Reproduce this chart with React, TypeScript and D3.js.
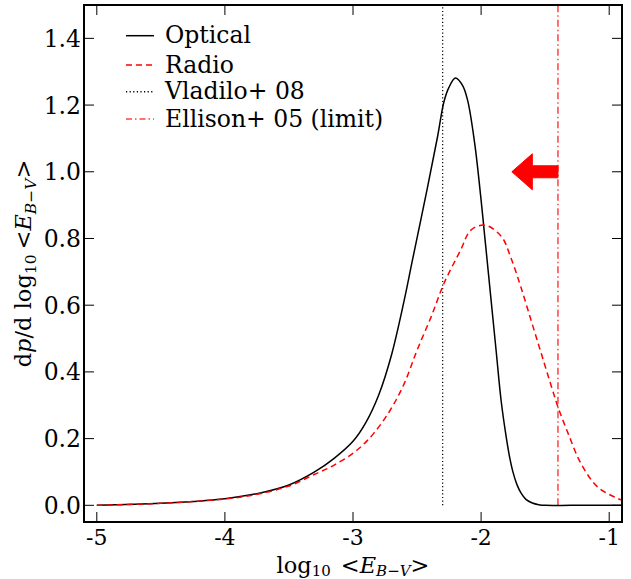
import React from 'react';
import * as d3 from 'd3';

const opticalX = [-5.0, -4.5, -4.0, -3.75, -3.5, -3.3, -3.15, -3.0, -2.9, -2.8, -2.7, -2.6, -2.536, -2.42, -2.34, -2.29, -2.25, -2.2, -2.145, -2.105, -2.05, -2.0, -1.972, -1.922, -1.883, -1.844, -1.81, -1.78, -1.75, -1.72, -1.69, -1.65, -1.6, -1.55, -1.5, -1.3, -1.1, -0.9];
const opticalY = [0.0, 0.006, 0.02, 0.035, 0.061, 0.1, 0.14, 0.192, 0.248, 0.33, 0.45, 0.615, 0.735, 0.95, 1.105, 1.21, 1.254, 1.281, 1.259, 1.214, 1.085, 0.915, 0.808, 0.615, 0.465, 0.315, 0.22, 0.15, 0.098, 0.062, 0.038, 0.018, 0.007, 0.002, 0.0, 0.0, 0.0, 0.0];

const radioX = [-5.0, -4.5, -4.0, -3.75, -3.5, -3.3, -3.15, -2.97, -2.84, -2.71, -2.6, -2.5, -2.39, -2.29, -2.16, -2.08, -1.97, -1.84, -1.77, -1.69, -1.61, -1.53, -1.45, -1.4, -1.32, -1.22, -1.09, -0.93, -0.9];
const radioY = [0.0, 0.006, 0.019, 0.033, 0.058, 0.093, 0.12, 0.165, 0.215, 0.285, 0.365, 0.465, 0.565, 0.665, 0.765, 0.825, 0.84, 0.805, 0.745, 0.655, 0.555, 0.455, 0.355, 0.295, 0.215, 0.125, 0.055, 0.02, 0.016];

const xTicks = [-5, -4, -3, -2, -1];
const yTicks = [0.0, 0.2, 0.4, 0.6, 0.8, 1.0, 1.2, 1.4];

const vladiloX = -2.3;
const ellisonX = -1.4;

const arrowStart = [-1.4, 1.0];
const arrowDx = -0.36;
const arrowWidth = 0.036;
const arrowHeadWidth = 0.108;
const arrowHeadLength = 0.16;

const legendLabels = ['Optical', 'Radio', 'Vladilo+ 08', 'Ellison+ 05 (limit)'];

const W = 631, H = 579;
const L = 84, R = 622, T = 5, B = 522;
const FONT = '"DejaVu Serif", serif';

export default function App() {
  const x = d3.scaleLinear().domain([-5.1, -0.9]).range([L, R]);
  const y = d3.scaleLinear().domain([-0.05, 1.5]).range([B, T]);
  const line = d3.line<[number, number]>().x(d => x(d[0])).y(d => y(d[1])).curve(d3.curveCatmullRom.alpha(0.5));
  const optical = opticalX.map((v, i) => [v, opticalY[i]] as [number, number]);
  const radio = radioX.map((v, i) => [v, radioY[i]] as [number, number]);

  const [ax, ay] = arrowStart;
  const shaftEnd = ax + arrowDx + arrowHeadLength;
  const tip = ax + arrowDx;
  const arrowPts: [number, number][] = [
    [ax, ay + arrowWidth / 2],
    [shaftEnd, ay + arrowWidth / 2],
    [shaftEnd, ay + arrowHeadWidth / 2],
    [tip, ay],
    [shaftEnd, ay - arrowHeadWidth / 2],
    [shaftEnd, ay - arrowWidth / 2],
    [ax, ay - arrowWidth / 2],
  ];
  const arrowPath = arrowPts.map(p => `${x(p[0])},${y(p[1])}`).join(' ');

  const legendRows = [35.7, 65, 91.7, 119];
  const legendStyles = [
    { stroke: '#000', dash: undefined, op: 1 },
    { stroke: 'red', dash: '6,4', op: 1 },
    { stroke: '#000', dash: '1.2,2.4', op: 1 },
    { stroke: 'red', dash: '6,3,1.5,3', op: 0.75 },
  ];

  return (
    <svg width={W} height={H} style={{ position: 'absolute', left: 0, top: 0, background: '#fff' }}>
      <defs>
        <clipPath id="plotclip">
          <rect x={L} y={T} width={R - L} height={B - T} />
        </clipPath>
      </defs>
      <rect x={0} y={0} width={W} height={H} fill="#fff" />
      <g clipPath="url(#plotclip)">
        <line x1={x(vladiloX)} x2={x(vladiloX)} y1={y(0)} y2={T} stroke="#000" strokeWidth={1.2} strokeDasharray="1.2,2.4" />
        <line x1={x(ellisonX)} x2={x(ellisonX)} y1={y(0)} y2={T} stroke="red" strokeOpacity={0.75} strokeWidth={1.5} strokeDasharray="7,3,1.5,3" />
        <path d={line(optical) || ''} fill="none" stroke="#000" strokeWidth={1.5} />
        <path d={line(radio) || ''} fill="none" stroke="red" strokeWidth={1.5} strokeDasharray="6,4" />
        <polygon points={arrowPath} fill="red" stroke="red" strokeWidth={1} />
      </g>
      {xTicks.map(t => (
        <g key={'x' + t}>
          <line x1={x(t)} x2={x(t)} y1={B} y2={B - 10} stroke="#000" strokeWidth={1} />
          <line x1={x(t)} x2={x(t)} y1={T} y2={T + 10} stroke="#000" strokeWidth={1} />
          <text x={x(t)} y={B + 23} textAnchor="middle" fontFamily={FONT} fontSize={22} fill="#000">{String(t)}</text>
        </g>
      ))}
      {yTicks.map(t => (
        <g key={'y' + t}>
          <line x1={L} x2={L + 10} y1={y(t)} y2={y(t)} stroke="#000" strokeWidth={1} />
          <line x1={R} x2={R - 10} y1={y(t)} y2={y(t)} stroke="#000" strokeWidth={1} />
          <text x={L - 3} y={y(t) + 8.5} textAnchor="end" fontFamily={FONT} fontSize={23.5} fill="#000">{t.toFixed(1)}</text>
        </g>
      ))}
      <rect x={L} y={T} width={R - L} height={B - T} fill="none" stroke="#000" strokeWidth={2} />
      {legendLabels.map((lab, i) => (
        <g key={lab}>
          <line x1={126} x2={154} y1={legendRows[i]} y2={legendRows[i]} stroke={legendStyles[i].stroke} strokeOpacity={legendStyles[i].op} strokeWidth={1.5} strokeDasharray={legendStyles[i].dash} />
          <text x={165} y={legendRows[i] + 7.5} fontFamily={FONT} fontSize={23.5} fill="#000">{lab}</text>
        </g>
      ))}
      <text x={(L + R) / 2} y={573} textAnchor="middle" fontFamily={FONT} fontSize={22.5} fill="#000">
        <tspan>log</tspan>
        <tspan fontSize={15} dy={2.5}>10</tspan>
        <tspan dy={-2.5} dx={10}>&lt;</tspan>
        <tspan fontStyle="italic">E</tspan>
        <tspan fontSize={15} dy={2.5} fontStyle="italic">B</tspan>
        <tspan fontSize={15}>−</tspan>
        <tspan fontSize={15} fontStyle="italic">V</tspan>
        <tspan dy={-2.5}>&gt;</tspan>
      </text>
      <text transform={`translate(31,${(T + B) / 2}) rotate(-90)`} textAnchor="middle" fontFamily={FONT} fontSize={22.5} fill="#000">
        <tspan>d</tspan>
        <tspan fontStyle="italic">p</tspan>
        <tspan>/d log</tspan>
        <tspan fontSize={15.5} dy={5}>10</tspan>
        <tspan dy={-5} dx={5}>&lt;</tspan>
        <tspan fontStyle="italic">E</tspan>
        <tspan fontSize={15.5} dy={5} fontStyle="italic">B</tspan>
        <tspan fontSize={15.5}>−</tspan>
        <tspan fontSize={15.5} fontStyle="italic">V</tspan>
        <tspan dy={-5}>&gt;</tspan>
      </text>
    </svg>
  );
}
